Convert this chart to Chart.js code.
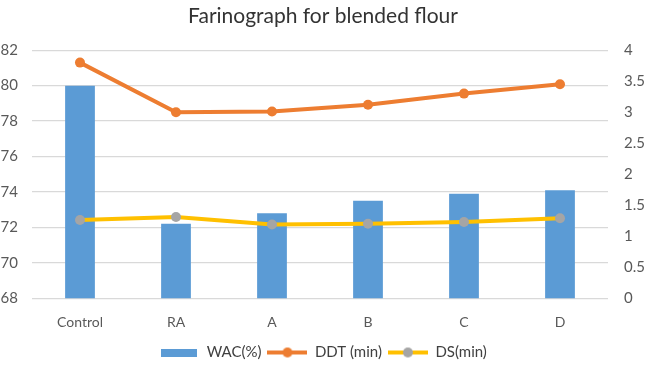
<!DOCTYPE html>
<html>
<head>
<meta charset="utf-8">
<script src="https://cdn.jsdelivr.net/npm/chart.js@4/dist/chart.umd.min.js"></script>
<style>
  html, body { margin: 0; padding: 0; background: #fff; }
  #wrap { width: 646px; height: 366px; }
</style>
</head>
<body>
<div id="wrap"><canvas id="grafico"></canvas></div>
<script>
const categorias = ['Control', 'RA', 'A', 'B', 'C', 'D'];
const wac = [80.0, 72.2, 72.8, 73.5, 73.9, 74.1];
const ddt = [3.80, 3.00, 3.01, 3.12, 3.30, 3.45];
const ds = [1.26, 1.31, 1.19, 1.20, 1.23, 1.29];

const azul = '#5B9BD5';
const naranja = '#ED7D31';
const amarillo = '#FFC000';
const gris = '#A5A5A5';

// iconos de la leyenda
function iconoBarra() {
    const c = document.createElement('canvas');
    c.width = 36; c.height = 8;
    const ctx = c.getContext('2d');
    ctx.fillStyle = azul;
    ctx.fillRect(0, 0, 36, 8);
    return c;
}

function iconoLinea(colorLinea, colorPunto) {
    const c = document.createElement('canvas');
    c.width = 40; c.height = 12;
    const ctx = c.getContext('2d');
    ctx.strokeStyle = colorLinea;
    ctx.lineWidth = 4;
    ctx.beginPath();
    ctx.moveTo(0, 6);
    ctx.lineTo(40, 6);
    ctx.stroke();
    ctx.fillStyle = colorPunto;
    ctx.beginPath();
    ctx.arc(20, 6, 5, 0, Math.PI * 2);
    ctx.fill();
    return c;
}

const iconos = [iconoBarra(), iconoLinea(naranja, naranja), iconoLinea(amarillo, gris)];

const ctx = document.getElementById('grafico').getContext('2d');
new Chart(ctx, {
    type: 'bar',
    data: {
        labels: categorias,
        datasets: [{
            type: 'bar',
            label: 'WAC(%)',
            data: wac,
            backgroundColor: azul,
            yAxisID: 'y',
            categoryPercentage: 1,
            barPercentage: 0.31,
            order: 3
        }, {
            type: 'line',
            label: 'DDT (min)',
            data: ddt,
            borderColor: naranja,
            backgroundColor: naranja,
            borderWidth: 4,
            pointRadius: 5,
            pointBackgroundColor: naranja,
            pointBorderWidth: 0,
            yAxisID: 'y2',
            order: 2
        }, {
            type: 'line',
            label: 'DS(min)',
            data: ds,
            borderColor: amarillo,
            backgroundColor: gris,
            borderWidth: 4,
            pointRadius: 5,
            pointBackgroundColor: gris,
            pointBorderWidth: 0,
            yAxisID: 'y2',
            order: 1
        }]
    },
    options: {
        responsive: true,
        maintainAspectRatio: false,
        animation: false,
        layout: { padding: { left: 0, right: 0, top: 0, bottom: -4 } },
        plugins: {
            title: {
                display: true,
                text: 'Farinograph for blended flour',
                color: '#333333',
                font: { family: 'Lato', size: 21, weight: 'normal' },
                padding: { top: 4, bottom: 21 }
            },
            legend: {
                position: 'bottom',
                labels: {
                    usePointStyle: true,
                    pointStyleWidth: 40,
                    color: '#404040',
                    font: { family: 'Lato', size: 15 },
                    padding: 6,
                    generateLabels: function(chart) {
                        return chart.data.datasets.map((d, i) => ({
                            text: d.label,
                            pointStyle: iconos[i],
                            fontColor: '#404040',
                            datasetIndex: i,
                            lineWidth: 0,
                            hidden: false
                        }));
                    }
                }
            },
            tooltip: { enabled: false }
        },
        scales: {
            x: {
                grid: { display: false },
                border: { display: false },
                ticks: { color: '#595959', font: { family: 'Lato', size: 14 }, padding: 8 }
            },
            y: {
                position: 'left',
                min: 68,
                max: 82,
                ticks: { stepSize: 2, color: '#595959', font: { family: 'Lato', size: 15 }, padding: 14 },
                grid: { color: '#D9D9D9', lineWidth: 1.3, drawTicks: false },
                border: { display: false },
                afterFit: function(scale) { scale.width = 32; }
            },
            y2: {
                position: 'right',
                min: 0,
                max: 4,
                ticks: {
                    stepSize: 0.5,
                    color: '#595959',
                    font: { family: 'Lato', size: 15 },
                    padding: 16,
                    callback: function(value) { return String(value); }
                },
                grid: { display: false, drawTicks: false },
                border: { display: false },
                afterFit: function(scale) { scale.width = 38; }
            }
        }
    }
});
</script>
</body>
</html>
